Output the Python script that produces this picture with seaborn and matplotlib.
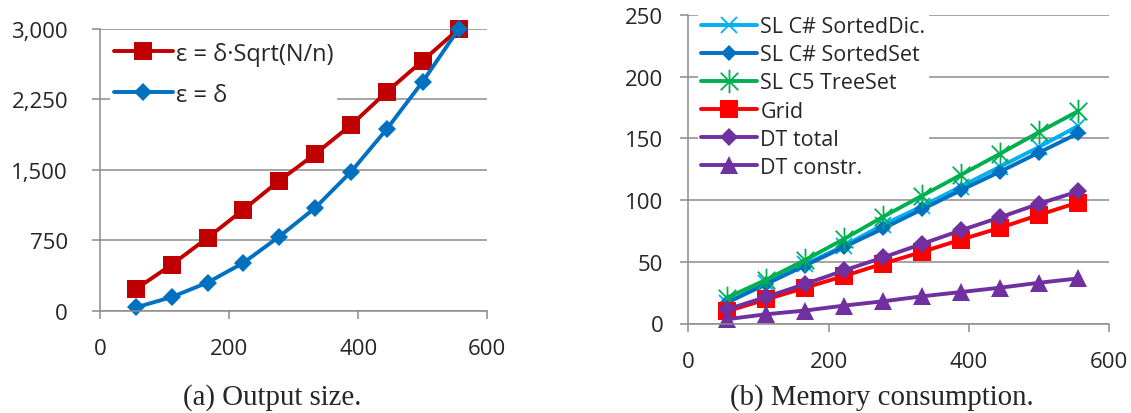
import matplotlib
matplotlib.use("Agg")
import matplotlib.pyplot as plt
import seaborn as sns
import pandas as pd
from matplotlib.path import Path
from matplotlib.ticker import FuncFormatter

# ---------------- data ----------------
n_values = [55.6, 111.1, 166.7, 222.2, 277.8, 333.3, 388.9, 444.4, 500.0, 555.6]

# (a) output size
eps_sqrt = [231, 490, 777, 1076, 1385, 1669, 1977, 2332, 2663, 3000]
eps_delta = [35, 145, 300, 510, 790, 1095, 1480, 1935, 2440, 3000]
labels_a = ["ε = δ·Sqrt(N/n)", "ε = δ"]

# (b) memory consumption
sl_sorted_dic = [17, 33, 48, 63, 80, 95, 111, 127, 143, 160]
sl_sorted_set = [17, 32, 47, 62, 77, 92.5, 108, 123, 138.5, 154]
sl_c5_treeset = [21, 35.5, 51.5, 68.5, 86.5, 103.5, 120.5, 137.5, 155, 172]
grid_mem = [10, 19.5, 29, 38.5, 48.5, 58, 68, 77.5, 88, 98]
dt_total = [11.5, 21.5, 32, 43, 53.5, 64.5, 75.5, 86, 97, 107]
dt_constr = [3.5, 7.5, 10.5, 14.5, 18, 22, 25.5, 29, 33, 36.5]
labels_b = ["SL C# SortedDic.", "SL C# SortedSet", "SL C5 TreeSet",
            "Grid", "DT total", "DT constr."]

xticks = [0, 200, 400, 600]
yticks_a = [0, 750, 1500, 2250, 3000]
yticks_b = [0, 50, 100, 150, 200, 250]
captions = ["(a) Output size.", "(b) Memory consumption."]

# ---------------- style ----------------
sns.set_style("white")
plt.rcParams["font.family"] = ["Open Sans", "DejaVu Sans"]
FS = 16
GRAY = "#8c8c8c"

# asterisk marker (x plus vertical bar)
star_path = Path(
    [(-1, -1), (1, 1), (-1, 1), (1, -1), (0, -1.35), (0, 1.35)],
    [Path.MOVETO, Path.LINETO, Path.MOVETO, Path.LINETO, Path.MOVETO, Path.LINETO],
)

fig = plt.figure(figsize=(11.31, 4.14), dpi=100)
ax_a = fig.add_axes([100 / 1131, 1 - 311.7 / 414, 387.3 / 1131, 281.7 / 414])
ax_b = fig.add_axes([688.3 / 1131, 1 - 324.5 / 414, 420.7 / 1131, 308.5 / 414])

df_a = pd.DataFrame({"n": n_values, "s": eps_sqrt, "d": eps_delta})
sns.lineplot(data=df_a, x="n", y="s", ax=ax_a, color="#c00000", lw=2.8,
             marker="s", markersize=13, markeredgewidth=0, label=labels_a[0],
             clip_on=False)
sns.lineplot(data=df_a, x="n", y="d", ax=ax_a, color="#0070c0", lw=2.8,
             marker="D", markersize=9, markeredgewidth=0, label=labels_a[1],
             clip_on=False)

df_b = pd.DataFrame({"n": n_values, "dic": sl_sorted_dic, "set": sl_sorted_set,
                     "c5": sl_c5_treeset, "grid": grid_mem, "dtt": dt_total,
                     "dtc": dt_constr})
specs = [
    ("dic", "#00b0f0", dict(marker="x", markersize=12, markeredgewidth=1.3)),
    ("set", "#0070c0", dict(marker="D", markersize=8.5, markeredgewidth=0)),
    ("c5", "#00b050", dict(marker=star_path, markersize=17, markeredgewidth=1.3)),
    ("grid", "#ff0000", dict(marker="s", markersize=13, markeredgewidth=0)),
    ("dtt", "#7030a0", dict(marker="D", markersize=9, markeredgewidth=0)),
    ("dtc", "#7030a0", dict(marker="^", markersize=12.5, markeredgewidth=0)),
]
for (col, colr, mk), lab in zip(specs, labels_b):
    sns.lineplot(data=df_b, x="n", y=col, ax=ax_b, color=colr, lw=2.8,
                 markeredgecolor=colr, label=lab, clip_on=False, **mk)

for ax, yt, ypad, xpad in [(ax_a, yticks_a, 17, 14), (ax_b, yticks_b, 12, 14)]:
    ax.set_xlim(0, 600)
    ax.set_ylim(yt[0], yt[-1])
    ax.set_xticks(xticks)
    ax.set_yticks(yt)
    ax.set_xlabel("")
    ax.set_ylabel("")
    for s in ["top", "right"]:
        ax.spines[s].set_visible(False)
    for s in ["left", "bottom"]:
        ax.spines[s].set_color(GRAY)
        ax.spines[s].set_linewidth(1.1)
    ax.yaxis.grid(True, color=GRAY, lw=1.1)
    ax.xaxis.grid(False)
    ax.set_axisbelow(True)
    ax.tick_params(axis="y", left=True, length=6, width=1.1, color=GRAY,
                   pad=ypad, labelsize=FS)
    ax.tick_params(axis="x", bottom=True, length=5.5, width=1.1, color=GRAY,
                   pad=xpad, labelsize=FS)

ax_a.yaxis.set_major_formatter(FuncFormatter(lambda v, p: f"{int(v):,}"))

leg_a = ax_a.legend(loc="upper left", bbox_to_anchor=(110 / 1131, 1 - 39 / 414),
                    bbox_transform=fig.transFigure, frameon=True, fancybox=False,
                    facecolor="white", edgecolor="none", framealpha=1,
                    fontsize=17, handlelength=2.5, handletextpad=0.15,
                    labelspacing=0.72, borderpad=0.15, borderaxespad=0)
leg_b = ax_b.legend(loc="upper left", bbox_to_anchor=(698 / 1131, 1 - 14 / 414),
                    bbox_transform=fig.transFigure, frameon=True, fancybox=False,
                    facecolor="white", edgecolor="none", framealpha=1,
                    fontsize=15.5, handlelength=2.6, handletextpad=0.15,
                    labelspacing=0.33, borderpad=0.15, borderaxespad=0)

fig.text(272.5 / 1131, 1 - 404.3 / 414, captions[0], ha="center", va="baseline",
         fontsize=20.8, family="Liberation Serif")
fig.text(881.5 / 1131, 1 - 404.3 / 414, captions[1], ha="center", va="baseline",
         fontsize=20.8, family="Liberation Serif")

fig.savefig("out.png", dpi=100)
